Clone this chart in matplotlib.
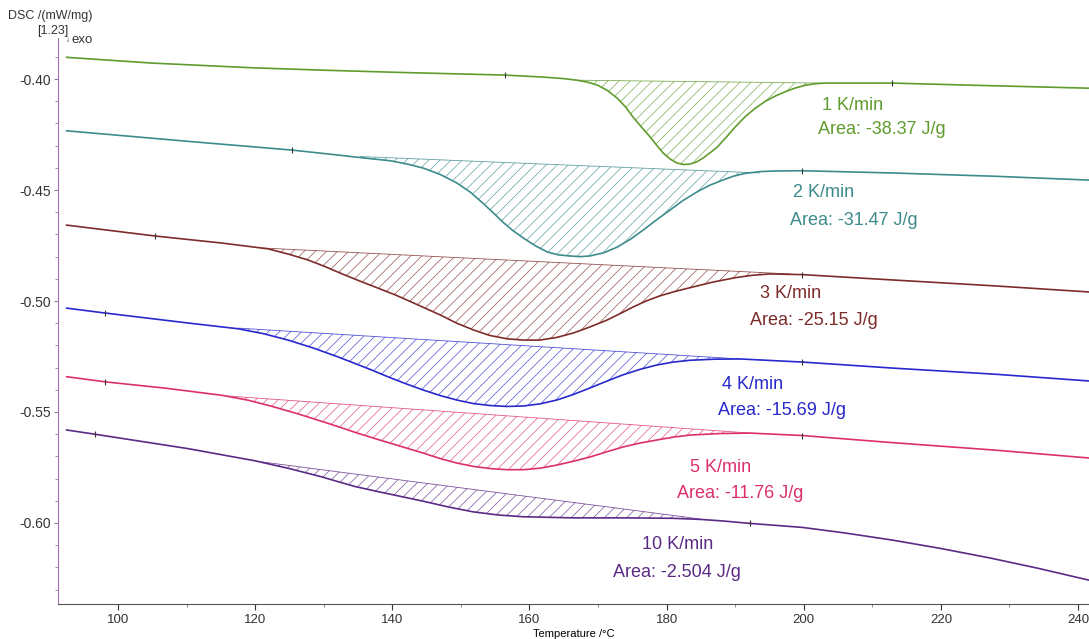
import numpy as np
import matplotlib
matplotlib.use('Agg')
import matplotlib.pyplot as plt
from matplotlib.ticker import MultipleLocator, FormatStrFormatter

plt.rcParams['font.family'] = ['Liberation Sans', 'DejaVu Sans']
plt.rcParams['hatch.linewidth'] = 0.5

# ==================== 数据 ====================
# 1 K/min
t1 = [92.5, 105, 119.5, 130, 141.1, 150, 156.4, 162, 165, 166.9, 168.5, 169.9, 171.3, 172.8,
      174.0, 175.1, 176.3, 177.6, 178.6, 179.5, 180.5, 181.5, 182.5, 183.4, 184.4, 185.3,
      186.3, 187.4, 188.7, 190.0, 191.4, 192.9, 194.4, 195.8, 197.3, 198.8, 200.2, 201.6,
      203.1, 212.9, 225, 241.5]
d1 = [-0.3902, -0.3928, -0.3949, -0.3960, -0.3970, -0.3977, -0.3982, -0.3991, -0.3998, -0.4005,
      -0.4014, -0.4027, -0.4050, -0.4086, -0.4125, -0.4171, -0.4215, -0.4261, -0.4300, -0.4333,
      -0.4360, -0.4378, -0.4385, -0.4383, -0.4373, -0.4356, -0.4333, -0.4306, -0.4262, -0.4216,
      -0.4171, -0.4132, -0.4100, -0.4077, -0.4057, -0.4040, -0.4028, -0.4021, -0.4018, -0.4018,
      -0.4028, -0.4041]
base1_t = [166.9, 202.8]
base1_v = [-0.4005, -0.4018]

# 2 K/min
t2 = [92.5, 110, 125.4, 132, 136.0, 139.7, 142.2, 144.5, 147.0, 149.4, 151.4, 153.2, 154.7,
      156.1, 157.6, 159.1, 160.8, 162.6, 164.2, 165.9, 167.4, 168.8, 170.8, 172.8, 174.7,
      176.6, 178.5, 180.5, 182.4, 184.4, 186.3, 188.2, 189.8, 191.4, 193.6, 195.8, 199.8,
      212.9, 228, 241.5]
d2 = [-0.4233, -0.4280, -0.4320, -0.4342, -0.4356, -0.4368, -0.4383, -0.4401, -0.4430, -0.4468,
      -0.4510, -0.4559, -0.4602, -0.4644, -0.4683, -0.4716, -0.4750, -0.4779, -0.4792, -0.4797,
      -0.4800, -0.4797, -0.4783, -0.4757, -0.4722, -0.4680, -0.4635, -0.4590, -0.4547, -0.4509,
      -0.4478, -0.4455, -0.4437, -0.4425, -0.4417, -0.4414, -0.4413, -0.4423, -0.4438, -0.4455]
base2_t = [135.3, 193.6]
base2_v = [-0.4349, -0.4423]

# 3 K/min
t3 = [92.5, 105.4, 115.2, 121.9, 125, 127.7, 130.2, 132.7, 135.1, 137.5, 140.4, 143.7, 147.0,
      149.4, 151.8, 154.2, 156.7, 159.1, 161.5, 164.0, 166.4, 168.8, 171.3, 173.2, 175.1,
      177.0, 179.0, 181.2, 183.4, 186.7, 190.0, 192.5, 195.1, 199.8, 212.9, 228, 241.5]
d3 = [-0.4658, -0.4707, -0.4739, -0.4765, -0.4790, -0.4815, -0.4845, -0.4878, -0.4908, -0.4937,
      -0.4972, -0.5017, -0.5063, -0.5100, -0.5130, -0.5155, -0.5170, -0.5176, -0.5176, -0.5164,
      -0.5144, -0.5117, -0.5086, -0.5057, -0.5027, -0.5000, -0.4977, -0.4957, -0.4940, -0.4915,
      -0.4895, -0.4884, -0.4878, -0.4881, -0.4905, -0.4932, -0.4959]
base3_t = [121.0, 198.0]
base3_v = [-0.4761, -0.4878]

# 4 K/min
t4 = [92.5, 98.1, 110.2, 117.5, 121.2, 124.8, 128.5, 132.1, 134.6, 137.0, 139.5, 142.0, 144.5,
      147.0, 149.4, 151.8, 154.3, 156.7, 159.1, 161.6, 164.0, 166.4, 168.8, 171.2, 173.6,
      176.1, 178.6, 181.0, 183.4, 187.0, 190.7, 199.8, 212.9, 228, 241.5]
d4 = [-0.5032, -0.5054, -0.5099, -0.5125, -0.5147, -0.5176, -0.5212, -0.5252, -0.5282, -0.5311,
      -0.5343, -0.5373, -0.5401, -0.5426, -0.5446, -0.5462, -0.5471, -0.5475, -0.5473, -0.5463,
      -0.5446, -0.5421, -0.5392, -0.5362, -0.5333, -0.5308, -0.5288, -0.5275, -0.5267, -0.5262,
      -0.5261, -0.5275, -0.5302, -0.5330, -0.5360]
base4_t = [117.5, 190.7]
base4_v = [-0.5122, -0.5261]

# 5 K/min
t5 = [92.5, 98.1, 107, 115.2, 119, 122.5, 126.2, 129.8, 132.2, 134.6, 137.5, 140.4, 144.5,
      147.0, 149.4, 151.8, 154.3, 156.7, 159.1, 161.6, 164.0, 166.4, 168.8, 171.2, 173.6,
      176.1, 178.6, 181.0, 183.4, 187.8, 192.2, 199.8, 212.9, 228, 241.5]
d5 = [-0.5341, -0.5364, -0.5393, -0.5425, -0.5447, -0.5475, -0.5508, -0.5543, -0.5567, -0.5592,
      -0.5620, -0.5647, -0.5685, -0.5710, -0.5730, -0.5745, -0.5755, -0.5760, -0.5760, -0.5753,
      -0.5739, -0.5722, -0.5703, -0.5680, -0.5658, -0.5640, -0.5626, -0.5613, -0.5604, -0.5597,
      -0.5595, -0.5606, -0.5638, -0.5672, -0.5707]
base5_t = [116.0, 192.2]
base5_v = [-0.5428, -0.5595]

# 10 K/min
t6 = [92.5, 96.6, 110.2, 120.0, 125, 129.8, 132.2, 134.6, 137.5, 140.4, 144.5, 148.2, 151.8,
      155.4, 159.1, 166.4, 173.6, 180.9, 185.0, 188.2, 192.2, 199.8, 206, 212.9, 220, 227.2,
      234, 241.5]
d6 = [-0.5581, -0.5600, -0.5665, -0.5720, -0.5755, -0.5793, -0.5815, -0.5836, -0.5856, -0.5875,
      -0.5902, -0.5928, -0.5950, -0.5964, -0.5972, -0.5977, -0.5977, -0.5979, -0.5984, -0.5991,
      -0.6002, -0.6020, -0.6045, -0.6077, -0.6115, -0.6158, -0.6203, -0.6257]
base6_t = [121.0, 184.9]
base6_v = [-0.5725, -0.5982]

rates = ['1 K/min', '2 K/min', '3 K/min', '4 K/min', '5 K/min', '10 K/min']
areas = ['Area: -38.37 J/g', 'Area: -31.47 J/g', 'Area: -25.15 J/g',
         'Area: -15.69 J/g', 'Area: -11.76 J/g', 'Area: -2.504 J/g']
# small "+" tick marks sitting on each curve
mark_t = [[156.4, 212.9], [125.4, 199.8], [105.4, 199.8],
          [98.1, 199.8], [98.1, 199.8], [96.6, 192.2]]

# ==================== 样式 ====================
colors = ['#5f9b2d', '#3d8b8b', '#7d2b2b', '#2828cc', '#dc2f6e', '#5b2a86']
# (x rate, y rate, x area, y area) in data units
label_pos = [(202.7, -0.4117, 202.1, -0.4225),
             (198.4, -0.4509, 198.0, -0.4635),
             (193.6, -0.4964, 192.2, -0.5086),
             (188.1, -0.5378, 187.5, -0.5495),
             (183.4, -0.5748, 181.5, -0.5865),
             (176.4, -0.6099, 172.2, -0.6225)]

curves = [(t1, d1, base1_t, base1_v), (t2, d2, base2_t, base2_v), (t3, d3, base3_t, base3_v),
          (t4, d4, base4_t, base4_v), (t5, d5, base5_t, base5_v), (t6, d6, base6_t, base6_v)]

fig = plt.figure(figsize=(10.89, 6.39), dpi=100)
ax = fig.add_axes([0.0533, 0.0548, 0.9467, 0.8857])

for i, (t, d, bt, bv) in enumerate(curves):
    c = colors[i]
    idx = [t.index(v) for v in mark_t[i]]
    t = np.array(t)
    d = np.array(d)
    ax.plot(t, d, color=c, lw=1.2, marker='|', markersize=5, markevery=idx,
            markeredgecolor='#333333', markeredgewidth=0.8)
    # hatched peak area between curve and straight baseline
    m = (t > bt[0]) & (t < bt[1])
    px = np.concatenate([[bt[0]], t[m], [bt[1]]])
    py = np.concatenate([[bv[0]], d[m], [bv[1]]])
    ax.fill(px, py, facecolor='none', edgecolor=c, hatch='///', linewidth=0, alpha=0.8)
    ax.plot(bt, bv, color=c, lw=0.6, alpha=0.8)
    x1, y1, x2, y2 = label_pos[i]
    ax.text(x1, y1, rates[i], color=c, fontsize=13, ha='left', va='center')
    ax.text(x2, y2, areas[i], color=c, fontsize=13, ha='left', va='center')

ax.set_xlim(91.25, 241.6)
ax.set_ylim(-0.6365, -0.3815)
ax.xaxis.set_major_locator(MultipleLocator(20))
ax.xaxis.set_minor_locator(MultipleLocator(10))
ax.yaxis.set_major_locator(MultipleLocator(0.05))
ax.yaxis.set_minor_locator(MultipleLocator(0.01))
ax.yaxis.set_major_formatter(FormatStrFormatter('%.2f'))
ax.tick_params(axis='x', which='major', labelsize=9.5, colors='#333333', length=4)
ax.tick_params(axis='y', which='major', labelsize=10, colors='#333333', length=3, pad=2)
ax.tick_params(axis='both', which='minor', length=2, colors='#777777')
ax.tick_params(axis='y', which='both', color='#a070b0')

for s in ['top', 'right']:
    ax.spines[s].set_visible(False)
ax.spines['left'].set_color('#a070b0')
ax.spines['bottom'].set_color('#555555')

ax.set_xlabel('Temperature /°C', fontsize=8, labelpad=2)

# 纵轴标题 (instrument style)
fig.text(0.007, 0.975, 'DSC /(mW/mg)', fontsize=9, ha='left', va='center', color='#333333')
fig.text(0.034, 0.952, '[1.23]', fontsize=9, ha='left', va='center', color='#333333')
fig.text(0.0605, 0.937, '↓', fontsize=6, ha='left', va='center', color='#333333')
fig.text(0.066, 0.937, 'exo', fontsize=9.5, ha='left', va='center', color='#333333')

plt.savefig('out.png', dpi=100)
